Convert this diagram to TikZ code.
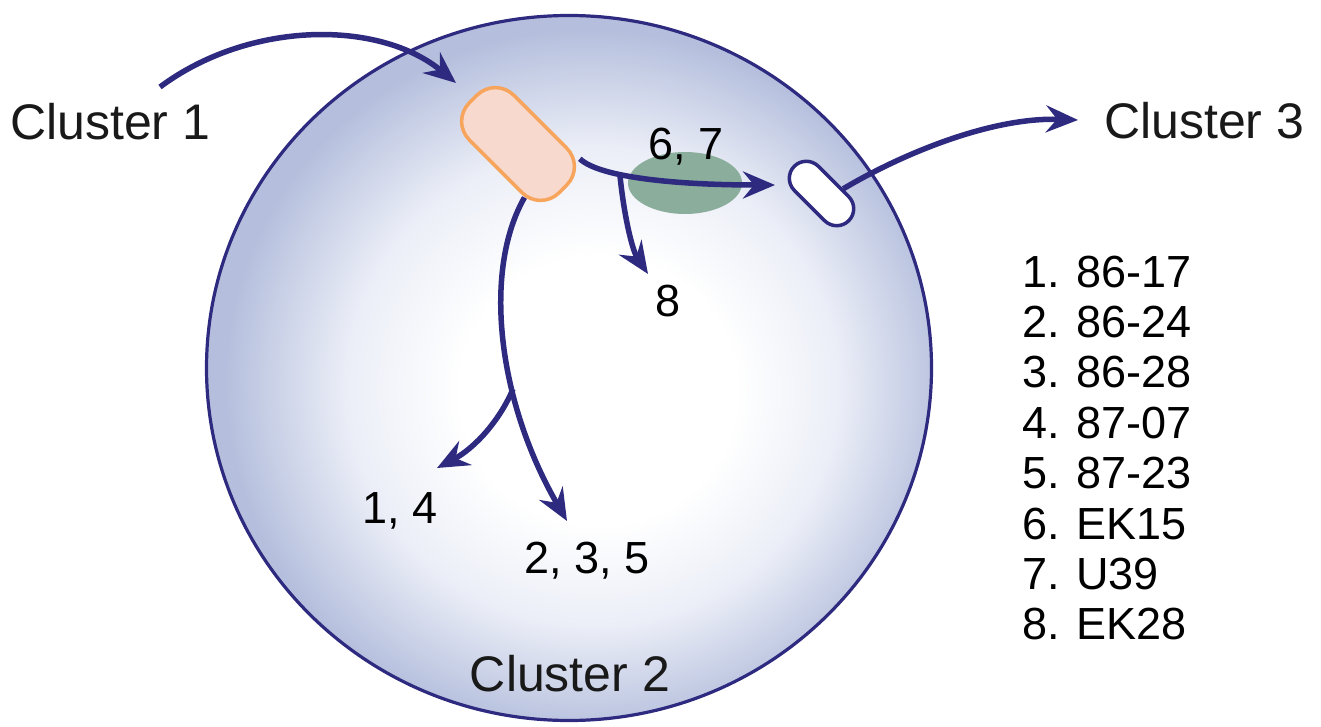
\documentclass[tikz,border=0pt]{standalone}
\usepackage{fontspec}
\setmainfont{Liberation Sans}
\usetikzlibrary{arrows.meta,shapes.geometric,calc}
\definecolor{navyc}{HTML}{2D2A7F}
\definecolor{capfill}{HTML}{F8D9CE}
\definecolor{capdraw}{HTML}{F7A45C}
\definecolor{greenblob}{HTML}{8BAE9C}
\definecolor{shadeMid}{HTML}{EBEEF7}
\definecolor{shadeEdge}{HTML}{B5BFDD}
\pgfdeclareradialshading{ball}{\pgfpoint{2.5bp}{-2bp}}{color(0bp)=(white); color(9.5bp)=(white); color(17bp)=(shadeMid); color(25bp)=(shadeEdge); color(50bp)=(shadeEdge)}
\tikzset{
  arr/.style={draw=navyc, line width=5.5pt, -{Stealth[length=32pt,width=27pt,inset=11pt]}},
  lbl/.style={inner sep=0pt, font=\fontsize{50}{58}\selectfont, text=black!90},
  num/.style={inner sep=0pt, font=\fontsize{45}{54}\selectfont, text=black},
  capsule/.style={line width=3.5pt, rotate=-45, inner sep=0pt}
}
\begin{document}
\begin{tikzpicture}[x=1pt,y=-1pt]
\useasboundingbox (0,0) rectangle (1321,727);
% big cell
\node[ellipse, shade, shading=ball, draw=navyc, line width=3.2pt, minimum width=725pt, minimum height=705pt, inner sep=0pt] (cell) at (569,368) {};
% green blob
\node[ellipse, fill=greenblob, minimum width=114pt, minimum height=62pt, inner sep=0pt] (blob) at (685,183) {};
% capsules
\node[capsule, draw=capdraw, fill=capfill, rounded corners=26pt, minimum width=127pt, minimum height=63pt] (cap) at (518,144) {};
\node[capsule, draw=navyc, fill=white, rounded corners=17pt, minimum width=77pt, minimum height=34pt] (wcap) at (821.5,193.5) {};
% labels
\node[lbl, anchor=base west] (c1) at (10,140) {Cluster 1};
\node[lbl, anchor=base west] (c3) at (1104,139) {Cluster 3};
\node[lbl, anchor=base] (c2) at (570,691) {Cluster 2};
\node[num, anchor=base] (n67) at (686,160) {6, 7};
\node[num, anchor=base] (n8) at (668,316) {8};
\node[num, anchor=base] (n14) at (400,523) {1, 4};
\node[num, anchor=base] (n235) at (587,573) {2, 3, 5};
% legend
\foreach \t [count=\i from 0] in {1. 86-17,2. 86-24,3. 86-28,4. 87-07,5. 87-23,6. EK15,7. U39,8. EK28}
  \node[num, anchor=base west] (leg\i) at (1022,287+50.4*\i) {\t};
% connector coordinates
\coordinate (a1s) at (160,87);
\coordinate (a1e) at (456,83);
\coordinate (bs) at ($(cap.north)!0.83!(cap.north east)$);
\coordinate (be) at (775,185);
\coordinate (br8) at (620,176);
\coordinate (e8) at (648,274);
\coordinate (ds) at ($(cap.south)!0.65!(cap.south east)$);
\coordinate (de) at (567,521);
\coordinate (b14) at (513,389);
\coordinate (e14) at (437,468);
\coordinate (fs) at ($(wcap.north)!0.3!(wcap.north east)$);
\coordinate (fe) at (1078,120);
% connectors
\draw[arr] (a1s) .. controls (250,20) and (380,20) .. (a1e);
\draw[arr] (bs) .. controls (600,178) and (680,185) .. (be);
\draw[arr] (br8) .. controls (624,215) and (632,250) .. (e8);
\draw[arr] (ds) .. controls (483,270) and (497,400) .. (de);
\draw[arr] (b14) .. controls (500,420) and (475,448) .. (e14);
\draw[arr] (fs) .. controls (900,155) and (990,117) .. (fe);
\end{tikzpicture}
\end{document}
